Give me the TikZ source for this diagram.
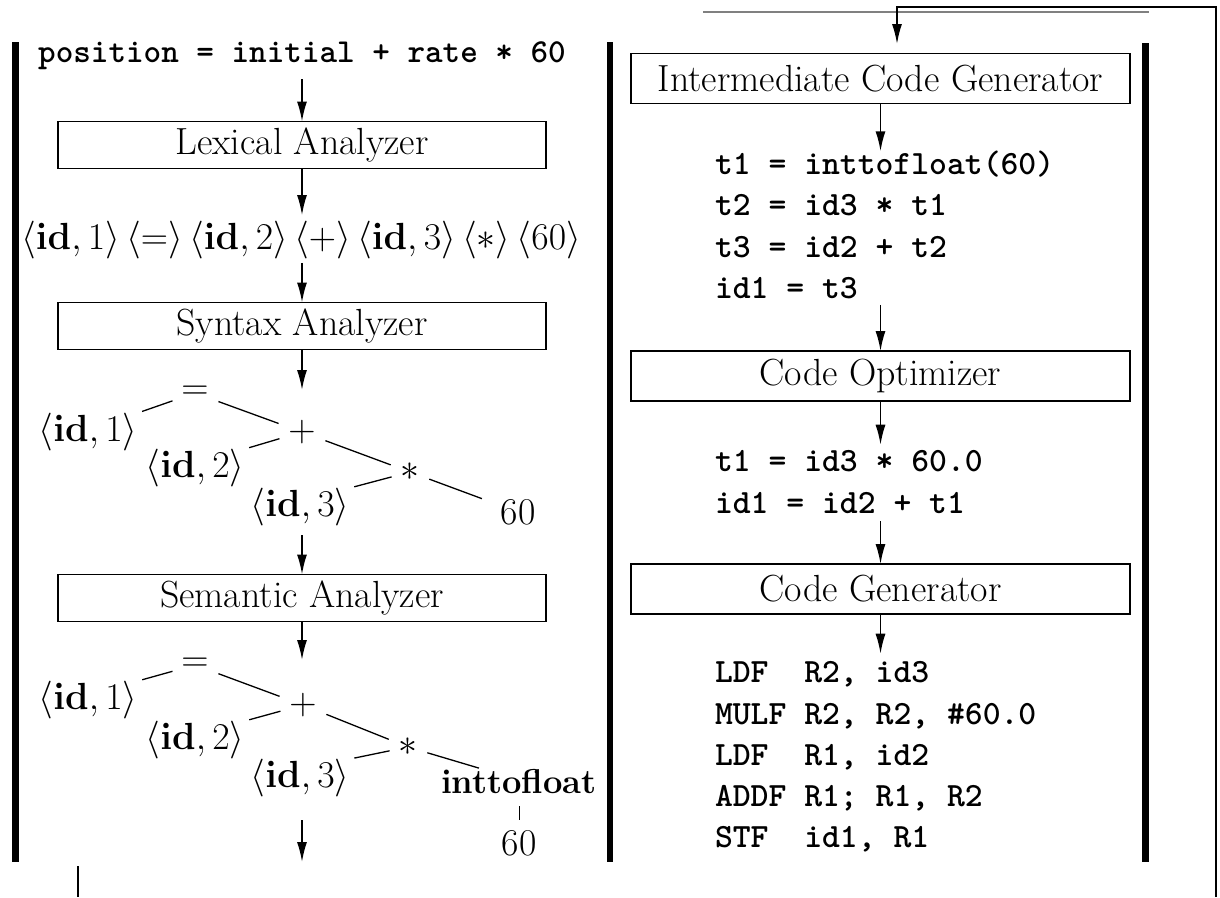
\documentclass[tikz,border=0pt]{standalone}
\usepackage{fix-cm}
\usetikzlibrary{arrows.meta,calc}
\newcommand\myrm{\fontsize{37.8}{45}\selectfont}
\newcommand\mytt{\fontsize{34}{41.2}\selectfont\ttfamily\bfseries}
\newcommand\mypos{\fontsize{33.5}{40}\selectfont\ttfamily\bfseries}
\begin{document}
\begin{tikzpicture}[x=1pt,y=-1pt,
  every node/.style={inner sep=0pt, outer sep=0pt, font=\myrm},
  box/.style={draw, line width=1.6pt, minimum width=488pt, minimum height=47pt},
  rbox/.style={box, minimum width=499pt, minimum height=50pt},
  op/.style={inner sep=7pt},
  arr/.style={line width=1.6pt, -{Latex[length=20pt,width=10pt]}},
  edge/.style={line width=1.3pt, shorten <=2pt, shorten >=5pt},
  oedge/.style={line width=1.3pt, shorten <=3pt, shorten >=3pt},
  code/.style={align=left, anchor=west, font=\mytt},
  bar/.style={fill=black}]
\useasboundingbox (0,0) rectangle (1220,897);
% side bars
\fill[bar] (12,42) rectangle (19,862);
\fill[bar] (607,42) rectangle (613,862);
\fill[bar] (1142,43) rectangle (1149,862);
\draw[gray, line width=1.2pt] (703,12) -- (1149,12);
\draw[line width=2pt] (78,866) -- (78,897);

% ---------- left column ----------
\node[font=\mypos] (pos) at (302,56) {position = initial + rate * 60};
\node[box] (lex) at (302,145) {Lexical Analyzer};
\node (tok) at (301,240) {$\langle\mathbf{id},1\rangle\,\langle=\rangle\,\langle\mathbf{id},2\rangle\,\langle+\rangle\,\langle\mathbf{id},3\rangle\,\langle*\rangle\,\langle60\rangle$};
\node[box] (syn) at (302,326) {Syntax Analyzer};
\coordinate (c1) at (302,390);
% tree 1
\node[op] (eqA) at (195,393) {$=$};
\node (idA1) at (88,432) {$\langle\mathbf{id},1\rangle$};
\node[op] (plA) at (302,432) {$+$};
\node (idA2) at (195,468) {$\langle\mathbf{id},2\rangle$};
\node[op] (stA) at (410,472) {$*$};
\node (idA3) at (300,507) {$\langle\mathbf{id},3\rangle$};
\node (sixA) at (518,512) {60};
\draw[edge] (eqA) -- (idA1.north east);
\draw[oedge] (eqA) -- (plA);
\draw[edge] (plA) -- (idA2.north east);
\draw[oedge] (plA) -- (stA);
\draw[edge] (stA) -- (idA3.north east);
\draw[oedge, shorten >=20pt] (stA) -- (sixA);
\coordinate (c2) at (302,535);
\node[box] (sem) at (302,598) {Semantic Analyzer};
\coordinate (c3) at (302,660);
% tree 2
\node[op] (eqB) at (195,665) {$=$};
\node (idB1) at (88,700) {$\langle\mathbf{id},1\rangle$};
\node[op] (plB) at (303,705) {$+$};
\node (idB2) at (195,740) {$\langle\mathbf{id},2\rangle$};
\node[op] (stB) at (408,747) {$*$};
\node (idB3) at (300,778) {$\langle\mathbf{id},3\rangle$};
\node[font=\fontsize{34.5}{40}\selectfont] (itf) at (519,782) {\textbf{inttofloat}};
\node (sixB) at (519,843) {60};
\draw[edge] (eqB) -- (idB1.north east);
\draw[oedge] (eqB) -- (plB);
\draw[edge] (plB) -- (idB2.north east);
\draw[oedge] (plB) -- (stB);
\draw[edge] (stB) -- (idB3.north east);
\draw[oedge, shorten >=6pt] (stB) -- ($(itf.north west)!0.28!(itf.north east)$);
\draw[line width=1pt, shorten <=12pt, shorten >=10pt] (itf) -- (sixB);
\coordinate (c4) at (302,820);
\coordinate (c5) at (302,862);

\draw[arr, shorten <=9pt] (pos.south -| lex.north) -- (lex.north);
\draw[arr, shorten >=6pt] (lex.south) -- (tok.north -| lex.south);
\draw[arr, shorten <=4pt] (tok.south -| syn.north) -- (syn.north);
\draw[arr] (syn.south) -- (c1);
\draw[arr] (c2) -- (sem.north);
\draw[arr] (sem.south) -- (c3);
\draw[arr] (c4) -- (c5);

% ---------- right column ----------
\node[rbox] (icg) at (880.5,78.5) {Intermediate Code Generator};
\node[code] (codeA) at (715,225) {t1 = inttofloat(60)\\t2 = id3 * t1\\t3 = id2 + t2\\id1 = t3};
\node[rbox] (opt) at (880.5,376) {Code Optimizer};
\node[code] (codeB) at (715,482) {t1 = id3 * 60.0\\id1 = id2 + t1};
\node[rbox] (cg) at (880.5,589) {Code Generator};
\node[code] (codeC) at (715,757) {LDF\ \ R2, id3\\MULF R2, R2, \#60.0\\LDF\ \ R1, id2\\ADDF R1; R1, R2\\STF\ \ id1, R1};

\draw[arr] (icg.south) -- (codeA.north -| icg.south);
\draw[arr, shorten <=6pt] (codeA.south -| opt.north) -- (opt.north);
\draw[arr, shorten >=6pt] (opt.south) -- (codeB.north -| opt.south);
\draw[arr, shorten <=8pt] (codeB.south -| cg.north) -- (cg.north);
\draw[arr, shorten >=8pt] (cg.south) -- (codeC.north -| cg.south);

% feedback connector
\coordinate (fbA) at (1216,897);
\coordinate (fbB) at (1216,7);
\coordinate (fbC) at (897,7);
\coordinate (fbD) at (897,44);
\draw[arr] (fbA) -- (fbB) -- (fbC) -- (fbD);
\end{tikzpicture}
\end{document}
